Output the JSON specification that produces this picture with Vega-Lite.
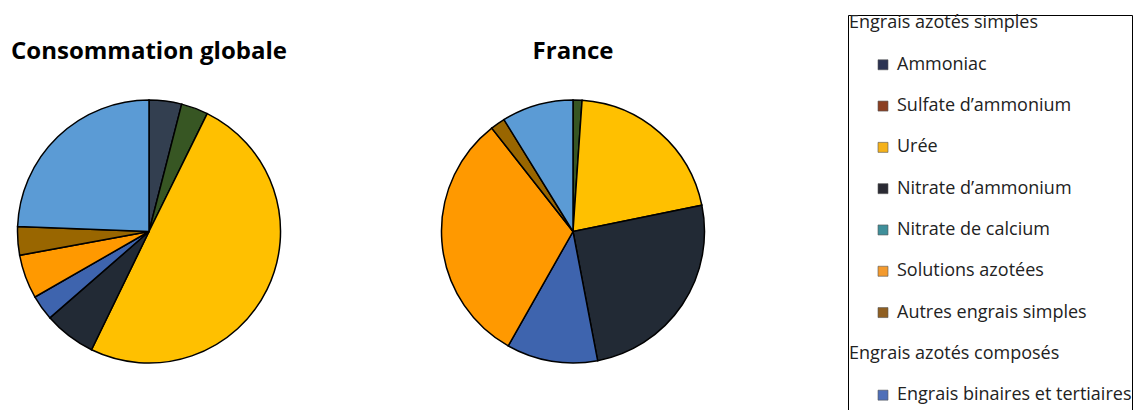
{
  "$schema": "https://vega.github.io/schema/vega-lite/v6.json",
  "padding": {"top": 13, "left": 0, "right": 0, "bottom": 0},
  "background": "white",
  "datasets": {
    "parts": [
      {"graphique": "Consommation globale", "categorie": "Ammoniac", "rang": 1, "part": 4.0},
      {"graphique": "Consommation globale", "categorie": "Sulfate d'ammonium", "rang": 2, "part": 3.3},
      {"graphique": "Consommation globale", "categorie": "Urée", "rang": 3, "part": 49.9},
      {"graphique": "Consommation globale", "categorie": "Nitrate d'ammonium", "rang": 4, "part": 6.4},
      {"graphique": "Consommation globale", "categorie": "Engrais binaires et tertiaires", "rang": 5, "part": 3.1},
      {"graphique": "Consommation globale", "categorie": "Solutions azotées", "rang": 6, "part": 5.4},
      {"graphique": "Consommation globale", "categorie": "Autres engrais simples", "rang": 7, "part": 3.5},
      {"graphique": "Consommation globale", "categorie": "Autres engrais composés", "rang": 8, "part": 24.4},
      {"graphique": "France", "categorie": "Ammoniac", "rang": 1, "part": 0},
      {"graphique": "France", "categorie": "Sulfate d'ammonium", "rang": 2, "part": 1.1},
      {"graphique": "France", "categorie": "Urée", "rang": 3, "part": 20.7},
      {"graphique": "France", "categorie": "Nitrate d'ammonium", "rang": 4, "part": 25.2},
      {"graphique": "France", "categorie": "Engrais binaires et tertiaires", "rang": 5, "part": 11.2},
      {"graphique": "France", "categorie": "Solutions azotées", "rang": 6, "part": 31.2},
      {"graphique": "France", "categorie": "Autres engrais simples", "rang": 7, "part": 1.8},
      {"graphique": "France", "categorie": "Autres engrais composés", "rang": 8, "part": 8.8}
    ],
    "legende": [
      {"libelle": "Engrais azotés simples", "niveau": "groupe"},
      {"libelle": "Ammoniac", "niveau": "type"},
      {"libelle": "Sulfate d’ammonium", "niveau": "type"},
      {"libelle": "Urée", "niveau": "type"},
      {"libelle": "Nitrate d’ammonium", "niveau": "type"},
      {"libelle": "Nitrate de calcium", "niveau": "type"},
      {"libelle": "Solutions azotées", "niveau": "type"},
      {"libelle": "Autres engrais simples", "niveau": "type"},
      {"libelle": "Engrais azotés composés", "niveau": "groupe"},
      {"libelle": "Engrais binaires et tertiaires", "niveau": "type"}
    ]
  },
  "config": {
    "font": "Open Sans",
    "concat": {"spacing": 0}
  },
  "bounds": "flush",
  "resolve": {"scale": {"color": "independent"}},
  "hconcat": [
    {
      "width": 298,
      "height": 433,
      "view": {"stroke": null},
      "title": {"text": "Consommation globale", "font": "Open Sans", "fontSize": 24, "fontWeight": "bold", "color": "#000000", "anchor": "middle", "frame": "group", "baseline": "alphabetic", "offset": -68},
      "data": {"name": "parts"},
      "transform": [{"filter": "datum.graphique === 'Consommation globale'"}],
      "mark": {"type": "arc", "outerRadius": 131.5, "stroke": "#000000", "strokeWidth": 1.5},
      "encoding": {
        "theta": {"field": "part", "type": "quantitative", "stack": true},
        "order": {"field": "rang", "type": "quantitative"},
        "color": {
          "field": "categorie", "type": "nominal", "legend": null,
          "scale": {
            "domain": ["Ammoniac", "Sulfate d'ammonium", "Urée", "Nitrate d'ammonium", "Engrais binaires et tertiaires", "Solutions azotées", "Autres engrais simples", "Autres engrais composés"],
            "range": ["#333f50", "#375623", "#ffc000", "#222a35", "#3e64ae", "#ff9900", "#996600", "#5b9bd5"]
          }
        }
      }
    },
    {
      "width": 550,
      "height": 433,
      "view": {"stroke": null},
      "title": {"text": "France", "font": "Open Sans", "fontSize": 24, "fontWeight": "bold", "color": "#000000", "anchor": "middle", "frame": "group", "baseline": "alphabetic", "offset": -68},
      "data": {"name": "parts"},
      "transform": [{"filter": "datum.graphique === 'France'"}],
      "mark": {"type": "arc", "outerRadius": 131.5, "stroke": "#000000", "strokeWidth": 1.5},
      "encoding": {
        "theta": {"field": "part", "type": "quantitative", "stack": true},
        "order": {"field": "rang", "type": "quantitative"},
        "color": {
          "field": "categorie", "type": "nominal", "legend": null,
          "scale": {
            "domain": ["Ammoniac", "Sulfate d'ammonium", "Urée", "Nitrate d'ammonium", "Engrais binaires et tertiaires", "Solutions azotées", "Autres engrais simples", "Autres engrais composés"],
            "range": ["#333f50", "#375623", "#ffc000", "#222a35", "#3e64ae", "#ff9900", "#996600", "#5b9bd5"]
          }
        }
      }
    },
    {
      "width": 284,
      "height": 440,
      "view": {"stroke": "#000000", "strokeWidth": 1},
      "data": {"name": "legende"},
      "encoding": {
        "y": {"field": "libelle", "type": "nominal", "axis": null, "scale": {"type": "point", "padding": 0.827, "align": 0.124, "domain": ["Engrais azotés simples", "Ammoniac", "Sulfate d’ammonium", "Urée", "Nitrate d’ammonium", "Nitrate de calcium", "Solutions azotées", "Autres engrais simples", "Engrais azotés composés", "Engrais binaires et tertiaires"]}},
        "x": {"field": "niveau", "type": "nominal", "axis": null, "scale": {"type": "point", "domain": ["groupe", "type"], "range": [1, 35], "padding": 0}}
      },
      "layer": [
        {
          "transform": [{"filter": "datum.niveau === 'type'"}],
          "mark": {"type": "point", "shape": "square", "filled": true, "size": 100, "opacity": 1, "stroke": "#555555", "strokeWidth": 0.6},
          "encoding": {
            "color": {
              "field": "libelle", "type": "nominal", "legend": null,
              "scale": {
                "domain": ["Ammoniac", "Sulfate d’ammonium", "Urée", "Nitrate d’ammonium", "Nitrate de calcium", "Solutions azotées", "Autres engrais simples", "Engrais binaires et tertiaires"],
                "range": ["#2b3352", "#8b3f22", "#f5b21b", "#2a2a33", "#3f8f9a", "#f39a2e", "#8f5f22", "#4f6fb8"]
              }
            }
          }
        },
        {
          "transform": [{"filter": "datum.niveau === 'type'"}],
          "mark": {"type": "text", "align": "left", "baseline": "middle", "dx": 14, "font": "Open Sans", "fontSize": 18, "color": "#222222"},
          "encoding": {"text": {"field": "libelle"}}
        },
        {
          "transform": [{"filter": "datum.niveau === 'groupe'"}],
          "mark": {"type": "text", "align": "left", "baseline": "middle", "font": "Open Sans", "fontSize": 18, "color": "#222222"},
          "encoding": {"text": {"field": "libelle"}}
        }
      ]
    }
  ]
}
